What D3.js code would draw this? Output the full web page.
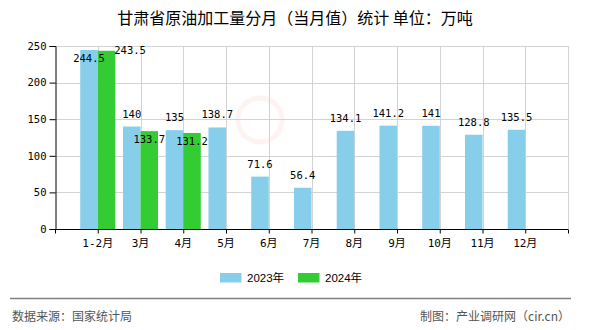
<!DOCTYPE html>
<html>
<head>
<meta charset="utf-8">
<script src="https://cdn.jsdelivr.net/npm/d3@7/dist/d3.min.js"></script>
<style>
  html, body { margin: 0; padding: 0; background: #fff; }
  svg { display: block; }
</style>
</head>
<body>
<div id="chart"></div>
<script>
// ---- data ----
const categories = ["1-2月", "3月", "4月", "5月", "6月", "7月", "8月", "9月", "10月", "11月", "12月"];
const series2023 = [244.5, 140, 135, 138.7, 71.6, 56.4, 134.1, 141.2, 141, 128.8, 135.5];
const series2024 = [243.5, 133.7, 131.2];
const seriesNames = ["2023年", "2024年"];
const yTicks = [0, 50, 100, 150, 200, 250];
const titleText = "甘肃省原油加工量分月（当月值）统计 单位：万吨";
const sourceText = "数据来源：国家统计局";
const creditText = "制图：产业调研网（cir.cn）";

// ---- layout / style ----
const W = 590, H = 330;
const plot = { left: 55, right: 568, top: 46, bottom: 229 };
const colors = ["#87CEEB", "#33CC33"];
const monoFont = "'DejaVu Sans Mono', 'Noto Sans CJK SC', monospace";
const cjkFont = "'Noto Sans CJK SC', 'Noto Sans', sans-serif";

const svg = d3.select("#chart").append("svg")
  .attr("width", W).attr("height", H);

const x = d3.scaleLinear().domain([0, categories.length + 1]).range([plot.left, plot.right]);
const y = d3.scaleLinear().domain([0, 250]).range([plot.bottom, plot.top]);
const barW = (x(1) - x(0)) * 0.41;

// faint watermark logo
svg.append("circle").attr("cx", 260).attr("cy", 120).attr("r", 22)
  .attr("fill", "none").attr("stroke", "#e06060").attr("stroke-width", 5).attr("opacity", 0.08);

// gridlines
const grid = svg.append("g").attr("stroke", "#d3d3d3").attr("stroke-width", 1);
grid.selectAll("line.h").data(yTicks.filter(d => d > 0)).enter().append("line")
  .attr("x1", plot.left).attr("x2", plot.right)
  .attr("y1", d => Math.round(y(d)) + 0.5).attr("y2", d => Math.round(y(d)) + 0.5);
grid.selectAll("line.v").data(d3.range(1, categories.length + 2)).enter().append("line")
  .attr("y1", plot.top).attr("y2", plot.bottom)
  .attr("x1", d => Math.round(x(d)) + 0.5).attr("x2", d => Math.round(x(d)) + 0.5);

// bars
const allSeries = [series2023, series2024];
allSeries.forEach((vals, si) => {
  svg.append("g").selectAll("rect").data(vals).enter().append("rect")
    .attr("x", (d, i) => x(i + 1) - barW + si * barW)
    .attr("y", d => y(d))
    .attr("width", barW)
    .attr("height", d => y(0) - y(d))
    .attr("fill", colors[si]);
});

// axes
const yAxis = d3.axisLeft(y).tickValues(yTicks).tickSize(6).tickPadding(3);
const gy = svg.append("g").attr("transform", `translate(${plot.left + 0.5},0)`).call(yAxis);
gy.selectAll("text").attr("font-family", monoFont).attr("font-size", 10.5).attr("fill", "#000");
gy.selectAll("line, path").attr("stroke", "#000");

const xAxis = d3.axisBottom(x).tickValues(d3.range(0, categories.length + 2)).tickSize(4)
  .tickFormat(() => "");
const gx = svg.append("g").attr("transform", `translate(0,${plot.bottom + 0.5})`).call(xAxis);
gx.selectAll("line, path").attr("stroke", "#000");
gx.select("path").attr("d", `M${plot.left},0H${plot.right}`);

svg.append("g").selectAll("text").data(categories).enter().append("text")
  .attr("x", (d, i) => x(i + 1))
  .attr("y", plot.bottom + 18)
  .attr("text-anchor", "middle")
  .attr("font-family", monoFont).attr("font-size", 11).attr("fill", "#000")
  .text(d => d);

// value labels
const labelSize = 10.5;
const lbl = svg.append("g").attr("font-family", monoFont).attr("font-size", labelSize).attr("fill", "#000");
const inside2023 = [];
series2023.forEach((v, i) => {
  const cx = x(i + 1) - barW / 2;
  let by = y(v) - 9;
  const inside = by - 8 < plot.top;
  if (inside) by = y(v) + 12;
  inside2023[i] = inside;
  lbl.append("text").attr("x", cx).attr("y", by).attr("text-anchor", "middle").text(v);
});
series2024.forEach((v, i) => {
  const cx = x(i + 1) + barW / 2;
  if (inside2023[i]) {
    lbl.append("text").attr("x", x(i + 1) + barW - 1).attr("y", y(v) + 3.5)
      .attr("text-anchor", "start").text(v);
  } else {
    lbl.append("text").attr("x", cx).attr("y", y(v) + 12).attr("text-anchor", "middle").text(v);
  }
});

// title
svg.append("text").attr("x", W / 2).attr("y", 24).attr("text-anchor", "middle")
  .attr("font-family", cjkFont).attr("font-size", 16).attr("fill", "#000")
  .text(titleText);

// legend
const legend = svg.append("g").attr("font-family", "'Liberation Sans', 'Noto Sans CJK SC', sans-serif")
  .attr("font-size", 11.5);
const legendX = [220, 298];
seriesNames.forEach((name, i) => {
  legend.append("rect").attr("x", legendX[i]).attr("y", 273).attr("width", 21.5).attr("height", 9.5)
    .attr("fill", colors[i]);
  legend.append("text").attr("x", legendX[i] + 27).attr("y", 282).attr("fill", "#000").text(name);
});

// footer
svg.append("line").attr("x1", 10).attr("x2", 571).attr("y1", 298.5).attr("y2", 298.5)
  .attr("stroke", "#808080").attr("stroke-width", 1.5);
svg.append("text").attr("x", 12).attr("y", 321)
  .attr("font-family", cjkFont).attr("font-size", 12).attr("fill", "#555").text(sourceText);
svg.append("text").attr("x", 570).attr("y", 321).attr("text-anchor", "end")
  .attr("font-family", cjkFont).attr("font-size", 12).attr("fill", "#555").text(creditText);
</script>
</body>
</html>
